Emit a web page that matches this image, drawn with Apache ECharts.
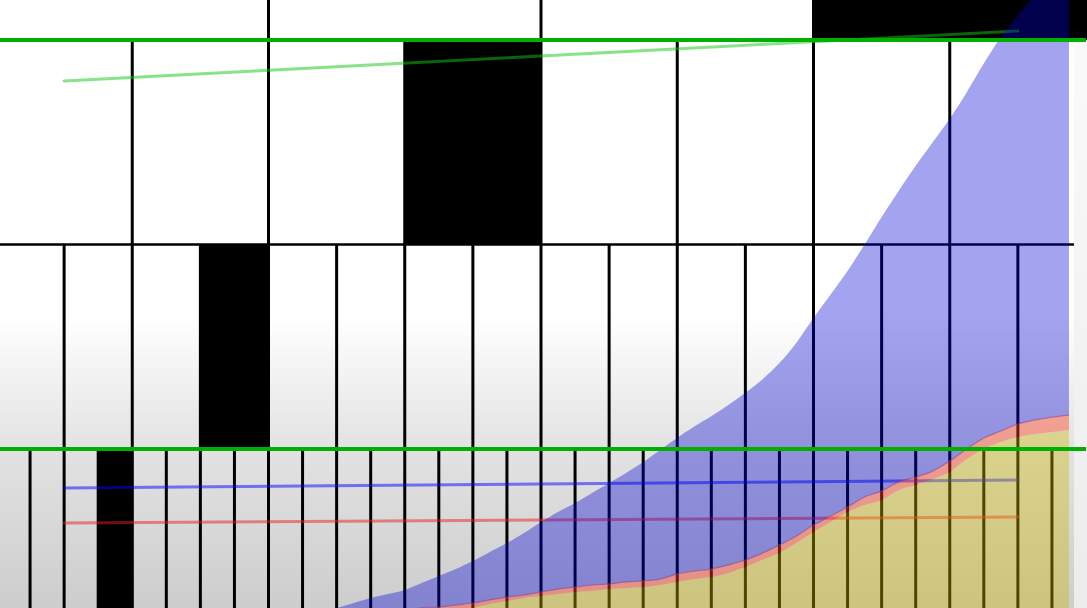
<!DOCTYPE html>
<html>
<head>
<meta charset="utf-8">
<style>
html,body{margin:0;padding:0;background:#fff;overflow:hidden}
#c{width:1087px;height:608px}
</style>
<script src="https://cdn.jsdelivr.net/npm/echarts@6/dist/echarts.min.js"></script>
</head>
<body>
<div id="c"></div>
<script>
// ---- data (x in cell units 0..32, y in row levels, bottom row = level 0..1) ----
const xSamples = [9.5, 10, 10.5, 11, 11.5, 12, 12.5, 13, 13.5, 14, 14.5, 15, 15.5, 16, 16.5, 17, 17.5, 18, 18.5, 19, 19.5, 20, 20.5, 21, 21.5, 22, 22.5, 23, 23.5, 24, 24.5, 25, 25.5, 26, 26.5, 27, 27.5, 28, 28.5, 29, 29.5, 30, 30.5, 31, 31.5];
const oliveTop = [0.135, 0.145, 0.155, 0.165, 0.175, 0.185, 0.195, 0.205, 0.215, 0.223, 0.242, 0.257, 0.272, 0.281, 0.291, 0.301, 0.306, 0.315, 0.320, 0.325, 0.335, 0.350, 0.364, 0.374, 0.394, 0.423, 0.458, 0.492, 0.541, 0.594, 0.643, 0.692, 0.726, 0.751, 0.800, 0.824, 0.853, 0.888, 0.951, 1.000, 1.034, 1.059, 1.073, 1.083, 1.093];
const redTop   = [0.160, 0.170, 0.180, 0.190, 0.200, 0.210, 0.223, 0.227, 0.237, 0.247, 0.262, 0.276, 0.286, 0.301, 0.315, 0.325, 0.335, 0.340, 0.350, 0.355, 0.364, 0.389, 0.403, 0.413, 0.433, 0.457, 0.491, 0.531, 0.575, 0.628, 0.672, 0.716, 0.765, 0.795, 0.839, 0.863, 0.892, 0.941, 1.000, 1.054, 1.088, 1.122, 1.142, 1.156, 1.166];
const blueTop  = [0.200, 0.222, 0.247, 0.271, 0.291, 0.311, 0.345, 0.379, 0.413, 0.452, 0.496, 0.540, 0.589, 0.643, 0.692, 0.736, 0.785, 0.834, 0.883, 0.936, 0.995, 1.055, 1.110, 1.160, 1.215, 1.275, 1.340, 1.420, 1.520, 1.640, 1.755, 1.870, 2.000, 2.135, 2.262, 2.385, 2.500, 2.615, 2.745, 2.885, 3.015, 3.120, 3.225, 3.342, 3.465];

const rowSpan = [1, 2, 4, 8];          // cell width of each row, bottom -> top
const blackCell = [3, 3, 3, 3];        // index of the filled cell in each row
const blackBoundaries = [2];           // black horizontal row borders
const greenBoundaries = [1, 3];        // green horizontal row borders
const greenLine = [[2, 2.800], [30, 3.044]];
const blueLine  = [[2, 0.809], [30, 0.848]];
const redLine   = [[2, 0.638], [30, 0.667]];
const X_CELLS = 32;

// ---- view window (visible part of the cell lattice) ----
const W = 1087, H = 608;
const UNIT_PX = 34.0625, ORIGIN_PX = -4;        // x: pixel of cell 0, px per cell
const ROW_PX = 204.5, LEVEL1_PX = 449;          // y: pixel of level 1, px per level
const xMin = (0 - ORIGIN_PX) / UNIT_PX, xMax = (W - ORIGIN_PX) / UNIT_PX;
const yMin = 1 - (H - LEVEL1_PX) / ROW_PX, yMax = 1 + LEVEL1_PX / ROW_PX;
const pxOf = k => ORIGIN_PX + UNIT_PX * k;

// ---- build ----
const redBand = redTop.map((v, i) => +(v - oliveTop[i]).toFixed(4));
const blueBand = blueTop.map((v, i) => +(v - redTop[i]).toFixed(4));
const cats = xSamples.map(String);

const cells = [];
rowSpan.forEach((span, r) => {
  for (let c = 0; c * span < X_CELLS; c++) {
    cells.push([c * span, (c + 1) * span, r, r + 1, c === blackCell[r] ? 1 : 0]);
  }
});

function renderCell(params, api) {
  const x0 = api.value(0), x1 = api.value(1), y0 = api.value(2), y1 = api.value(3), black = api.value(4);
  const p0 = api.coord([x0, y1]);
  const p1 = api.coord([x1, y0]);
  const children = [];
  if (black) {
    children.push({ type: 'rect', shape: { x: p0[0], y: p0[1], width: p1[0] - p0[0] + 1, height: p1[1] - p0[1] }, style: { fill: '#000' } });
  }
  if (x0 > 0) {
    children.push({ type: 'line', shape: { x1: p0[0], y1: p0[1], x2: p0[0], y2: p1[1] }, style: { stroke: '#000', lineWidth: 3 } });
  }
  return { type: 'group', children };
}

function hLine(level, color, width, z) {
  return { type: 'line', xAxisIndex: 0, yAxisIndex: 0, data: [[0, level], [X_CELLS, level]], showSymbol: false, silent: true,
           lineStyle: { color, width }, z };
}
function segLine(data, color, width, z) {
  return { type: 'line', xAxisIndex: 0, yAxisIndex: 0, data, showSymbol: false, silent: true,
           lineStyle: { color, width, cap: 'round' }, z };
}
function areaSeries(data, fill, line) {
  return { type: 'line', xAxisIndex: 1, yAxisIndex: 1, stack: 'area', data, showSymbol: false, silent: true,
           smooth: 0.3, lineStyle: line, areaStyle: { color: fill, opacity: 1 }, z: 3 };
}

const series = [
  { type: 'custom', xAxisIndex: 0, yAxisIndex: 0, data: cells, renderItem: renderCell, encode: { x: [0, 1], y: [2, 3] }, silent: true, z: 1, clip: true },
];
blackBoundaries.forEach(b => series.push(hLine(b, '#000', 2.5, 1)));
series.push(segLine(greenLine, 'rgba(20,200,20,0.5)', 3, 2));
series.push(segLine(blueLine, 'rgba(0,0,255,0.5)', 3, 2));
series.push(segLine(redLine, 'rgba(235,30,30,0.5)', 3, 2));
series.push(areaSeries(oliveTop, 'rgba(205,185,0,0.38)', { width: 0 }));
series.push(areaSeries(redBand, 'rgba(255,60,30,0.42)', { width: 1.2, color: 'rgba(140,60,140,0.55)' }));
series.push(areaSeries(blueBand, 'rgba(0,0,210,0.36)', { width: 0 }));
greenBoundaries.forEach(b => series.push(hLine(b, '#00b000', 4, 6)));

const areaLeft = pxOf(xSamples[0]);
const areaWidth = pxOf(xSamples[xSamples.length - 1]) - areaLeft;

const chart = echarts.init(document.getElementById('c'), null, { renderer: 'canvas' });
chart.setOption({
  animation: false,
  backgroundColor: new echarts.graphic.LinearGradient(0, 0, 0, 1, [
    { offset: 0, color: '#ffffff' },
    { offset: 0.52, color: '#ffffff' },
    { offset: 0.74, color: '#e2e2e2' },
    { offset: 1, color: '#cdcdcd' }
  ]),
  grid: [
    { left: 0, top: 0, width: W, height: H, containLabel: false },
    { left: areaLeft, top: 0, width: areaWidth, height: H, containLabel: false }
  ],
  xAxis: [
    { type: 'value', gridIndex: 0, min: xMin, max: xMax, show: false, splitLine: { show: false } },
    { type: 'category', gridIndex: 1, data: cats, boundaryGap: false, show: false }
  ],
  yAxis: [
    { type: 'value', gridIndex: 0, min: yMin, max: yMax, show: false, splitLine: { show: false } },
    { type: 'value', gridIndex: 1, min: yMin, max: yMax, show: false, splitLine: { show: false } }
  ],
  graphic: [
    { type: 'rect', left: 1074, top: 42, shape: { width: 13, height: 566 }, z: 5, silent: true,
      style: { fill: new echarts.graphic.LinearGradient(0, 0, 0, 1, [{ offset: 0, color: '#fafafa' }, { offset: 1, color: '#ececec' }]) } }
  ],
  series
});
</script>
</body>
</html>
